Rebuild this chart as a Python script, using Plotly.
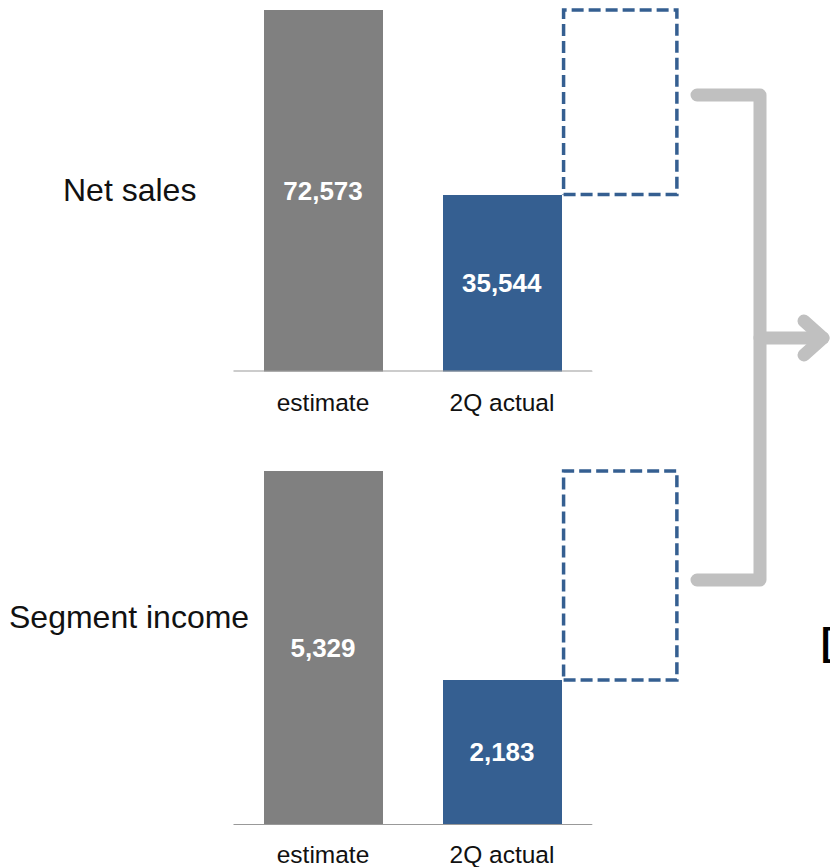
import plotly.graph_objects as go

# ---- data -------------------------------------------------------------
categories = ["estimate", "2Q actual"]
panel_names = ["Net sales", "Segment income"]
estimate_values = [72573, 5329]
actual_values = [35544, 2183]

GRAY = "#808080"
BLUE = "#355F91"
CONNECTOR = "#C0C0C0"
W, H = 830, 867
FONT = "Liberation Sans, Arial, sans-serif"

BAR_W = 0.67
X_RANGE = [-0.5, 2.0]
X_PIX = (233.5, 681.0)           # x-axis domain in pixels

# (pixel of value 0, pixel of the estimate top) for each panel
panel_pix = [(371.5, 10.0), (825.0, 471.0)]
HEADROOM = 1.02


def px(x):
    return x / W


def py(y):
    return 1 - y / H


fig = go.Figure()
layout_axes = {}
shapes = []
annotations = []

for i, (name, est, act) in enumerate(zip(panel_names, estimate_values, actual_values)):
    n = "" if i == 0 else str(i + 1)
    xa, ya = "x" + n, "y" + n
    y0_pix, y1_pix = panel_pix[i]
    scale = (y0_pix - y1_pix) / est
    top_pix = y0_pix - est * HEADROOM * scale

    fig.add_trace(go.Bar(
        x=[0, 1], y=[est, act], width=[BAR_W, BAR_W],
        marker=dict(color=[GRAY, BLUE], line=dict(width=0)),
        text=[f"{est:,}", f"{act:,}"], textposition="inside",
        insidetextanchor="middle", constraintext="none",
        textfont=dict(family=FONT, size=26, color="white", weight="bold"),
        xaxis=xa, yaxis=ya, showlegend=False, hoverinfo="skip",
    ))

    # dashed outline for the gap between actual and estimate
    bx0 = 1 + BAR_W / 2 + 0.009
    bx1 = 1 + BAR_W / 2 + 0.642
    fig.add_trace(go.Scatter(
        x=[bx0, bx1, bx1, bx0, bx0], y=[act, act, est, est, act],
        mode="lines", line=dict(color=BLUE, width=3.5, dash="12px,5px"),
        xaxis=xa, yaxis=ya, showlegend=False, hoverinfo="skip",
    ))

    layout_axes["xaxis" + n] = dict(
        domain=[px(X_PIX[0]), px(X_PIX[1])], range=X_RANGE, anchor=ya,
        tickvals=[0, 1], ticktext=categories, showgrid=False, zeroline=False,
        showline=False, ticks="", ticklabelstandoff=[14, 12][i],
        tickfont=dict(family=FONT, size=24.5, color="#111111"),
    )
    layout_axes["yaxis" + n] = dict(
        domain=[py(y0_pix), min(1.0, py(top_pix))], range=[0, est * HEADROOM], anchor=xa,
        visible=False,
    )

    # baseline
    shapes.append(dict(type="line", xref=xa, yref=ya, x0=-0.5, x1=1.5, y0=0, y1=0,
                       line=dict(color="#999999", width=2)))

    # row label
    label_y = [190, 617][i]
    annotations.append(dict(text=name, x=px(129), y=py(label_y), xref="paper", yref="paper",
                            xanchor="center", yanchor="middle", showarrow=False,
                            font=dict(family=FONT, size=32, color="#111111")))

# bracket connector joining both panels, with an arrow pointing right
conn_path = (f"M {px(697)},{py(95)} L {px(760)},{py(95)} "
             f"L {px(760)},{py(580)} L {px(697)},{py(580)}")
shapes.append(dict(type="path", xref="paper", yref="paper", path=conn_path,
                   line=dict(color=CONNECTOR, width=13)))
shapes.append(dict(type="path", xref="paper", yref="paper",
                   path=f"M {px(760)},{py(338)} L {px(823)},{py(338)}",
                   line=dict(color=CONNECTOR, width=13)))
shapes.append(dict(type="path", xref="paper", yref="paper",
                   path=(f"M {px(804)},{py(321)} L {px(823)},{py(338)} "
                         f"L {px(804)},{py(355)}"),
                   line=dict(color=CONNECTOR, width=13)))

annotations.append(dict(text="<b>[</b>", x=px(819), y=py(642), xref="paper", yref="paper",
                        xanchor="left", yanchor="middle", showarrow=False,
                        font=dict(family=FONT, size=38, color="black")))

fig.update_layout(
    width=W, height=H, margin=dict(l=0, r=0, t=0, b=0, pad=0),
    paper_bgcolor="white", plot_bgcolor="white",
    shapes=shapes, annotations=annotations, bargap=0,
    **layout_axes,
)

round_joins = """
document.querySelectorAll('.shapelayer path').forEach(function (p) {
  p.style.strokeLinejoin = 'round';
  p.style.strokeLinecap = 'round';
});
"""

fig.write_html("out.html", config={"displayModeBar": False}, post_script=round_joins)
